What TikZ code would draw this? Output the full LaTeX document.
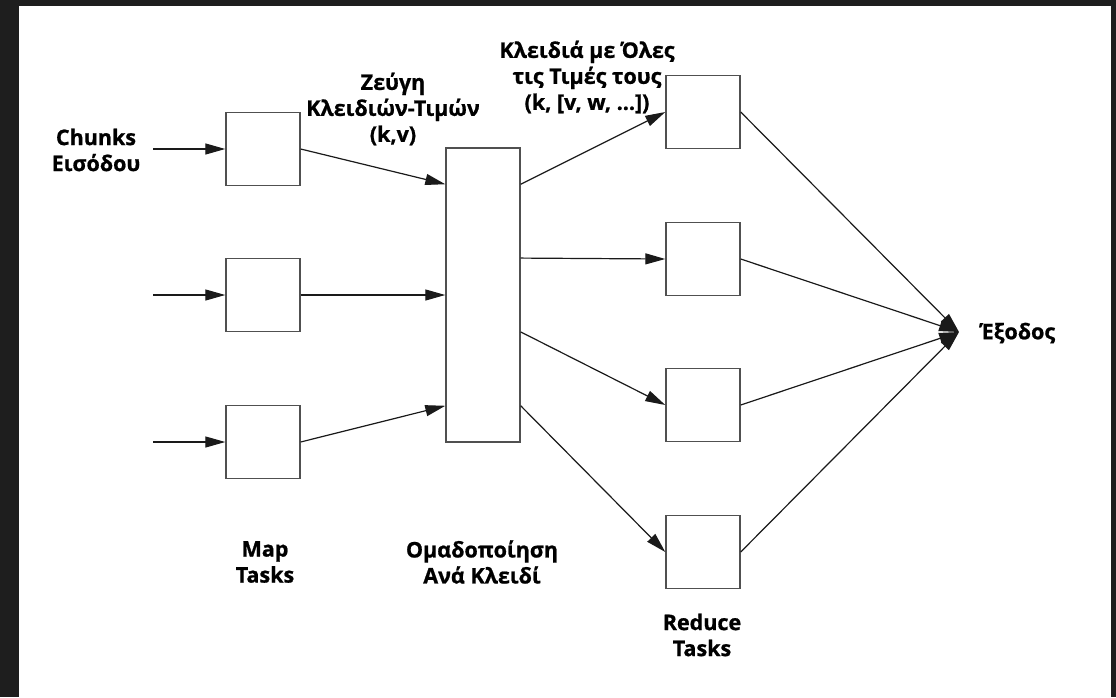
\documentclass[tikz,border=0pt]{standalone}
\usepackage{fontspec}
\setmainfont{Open Sans}[BoldFeatures={FakeBold=0.9}]
\usetikzlibrary{arrows.meta,calc}
\definecolor{framec}{HTML}{1E1E1E}
\definecolor{boxc}{HTML}{505050}
\definecolor{linec}{HTML}{1A1A1A}
\begin{document}
\begin{tikzpicture}[x=1pt,y=-1pt,
  box/.style={draw=boxc, line width=1.4pt, minimum width=74pt, minimum height=73pt, inner sep=0pt, fill=white},
  lbl/.style={font=\fontsize{21.5}{26}\selectfont\bfseries, align=center, inner sep=0pt, text=black},
  conn/.style={draw=linec, line width=1.2pt, -{Triangle[length=20pt,width=11pt]}}]
\fill[framec] (0,0) rectangle (1116,697);
\fill[white] (19,6) rectangle (1111,697);
\useasboundingbox (0,0) rectangle (1116,697);
% map tasks
\node[box] (m1) at (263,149) {};
\node[box] (m2) at (263,295) {};
\node[box] (m3) at (263,442) {};
% grouping
\node[box, minimum height=294pt] (g) at (483,295) {};
% reduce tasks
\node[box] (r1) at (703,112) {};
\node[box] (r2) at (703,259) {};
\node[box] (r3) at (703,405) {};
\node[box] (r4) at (703,552) {};
% inputs
\coordinate (i1) at (153,149);
\coordinate (i2) at (153,295);
\coordinate (i3) at (153,442);
\coordinate (o) at (959,332);
% labels
\node[lbl] (tin) at (96,150) {Chunks\\Εισόδου};
\node[lbl] (tkv) at (393,109) {Ζεύγη\\Κλειδιών-Τιμών\\(k,v)};
\node[lbl] (tall) at (587,77) {Κλειδιά με Όλες\\τις Τιμές τους\\(k, [v, w, ...])};
\node[lbl] (tmap) at (265,562) {Map\\Tasks};
\node[lbl] (tgrp) at (482,562) {Ομαδοποίηση\\Ανά Κλειδί};
\node[lbl] (tred) at (702,635) {Reduce\\Tasks};
\node[lbl, anchor=west] (tout) at (980,333) {Έξοδος};
% connectors
\draw[conn] (i1) -- (m1.west);
\draw[conn] (i2) -- (m2.west);
\draw[conn] (i3) -- (m3.west);
\draw[conn] (m1.east) -- ($(g.north west)!0.125!(g.south west)$);
\draw[conn] (m2.east) -- (g.west);
\draw[conn] (m3.east) -- ($(g.north west)!0.875!(g.south west)$);
\draw[conn] ($(g.north east)!0.125!(g.south east)$) -- (r1.west);
\draw[conn] ($(g.north east)!0.375!(g.south east)$) -- (r2.west);
\draw[conn] ($(g.north east)!0.625!(g.south east)$) -- (r3.west);
\draw[conn] ($(g.north east)!0.875!(g.south east)$) -- (r4.west);
\draw[conn] (r1.east) -- (o);
\draw[conn] (r2.east) -- (o);
\draw[conn] (r3.east) -- (o);
\draw[conn] (r4.east) -- (o);
\end{tikzpicture}
\end{document}
